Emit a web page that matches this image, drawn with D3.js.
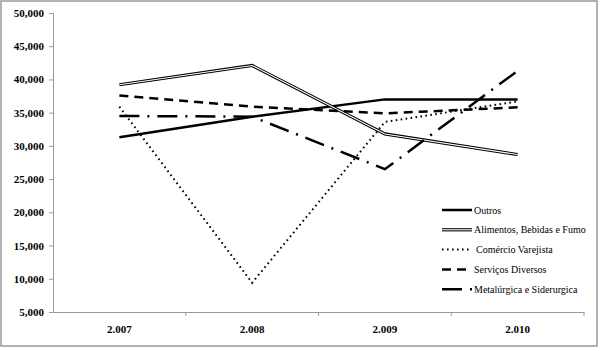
<!DOCTYPE html>
<html>
<head>
<meta charset="utf-8">
<script src="https://cdnjs.cloudflare.com/ajax/libs/d3/7.8.5/d3.min.js"></script>
<style>
  body { margin: 0; background: #fff; }
  svg text { font-family: "Liberation Serif", "Times New Roman", serif !important; }
</style>
</head>
<body>
<div id="chart"></div>
<script>
var years = ["2.007", "2.008", "2.009", "2.010"];
var outros      = [31300, 34400, 37000, 37000];
var alimentos   = [39200, 42100, 31800, 28700];
var comercio    = [35900, 9400, 33600, 36700];
var servicos    = [37600, 35900, 34900, 35800];
var metalurgica = [34500, 34400, 26500, 41300];
var yTicks = [5000, 10000, 15000, 20000, 25000, 30000, 35000, 40000, 45000, 50000];

var series = [
  { name: "Outros", values: outros, style: "solid" },
  { name: "Alimentos, Bebidas e Fumo", values: alimentos, style: "double" },
  { name: "Comércio Varejista", values: comercio, style: "dot" },
  { name: "Serviços Diversos", values: servicos, style: "dash" },
  { name: "Metalúrgica e Siderurgica", values: metalurgica, style: "dashdot" }
];

var width = 600, height = 351;
var margin = { left: 53, top: 13, right: 16, bottom: 39 };

var svg = d3.select("#chart").append("svg")
    .attr("width", width)
    .attr("height", height);

// outer frame
svg.append("rect")
    .attr("x", 1).attr("y", 1)
    .attr("width", 596).attr("height", 345)
    .attr("fill", "none")
    .attr("stroke", "#999")
    .attr("stroke-width", 1.5);

var x = d3.scaleBand()
    .domain(years)
    .range([margin.left, width - margin.right]);

var y = d3.scaleLinear()
    .domain([5000, 50000])
    .range([height - margin.bottom, margin.top]);

var fmt = d3.format(",");

// y axis
var yAxis = svg.append("g")
    .attr("transform", "translate(" + margin.left + ",0)")
    .call(d3.axisLeft(y).tickValues(yTicks).tickSize(4).tickPadding(5).tickFormat(fmt));
yAxis.attr("font-family", null);
yAxis.select(".domain").attr("stroke", "#999");
yAxis.selectAll(".tick line").attr("stroke", "#999");
yAxis.selectAll("text")
    .attr("font-size", 11)
    .attr("font-weight", "bold")
    .attr("fill", "#000");

// x axis
var xAxis = svg.append("g")
    .attr("transform", "translate(0," + (height - margin.bottom) + ")")
    .call(d3.axisBottom(x).tickSize(0).tickPadding(13));
xAxis.attr("font-family", null);
xAxis.select(".domain").attr("stroke", "#999");
xAxis.selectAll("text")
    .attr("font-size", 11)
    .attr("font-weight", "bold")
    .attr("fill", "#000");

// category boundary ticks
xAxis.selectAll(".bound")
    .data(years.slice(1).concat(["end"]))
    .enter().append("line")
    .attr("x1", function (d, i) { return x(years[0]) + x.bandwidth() * (i + 1); })
    .attr("x2", function (d, i) { return x(years[0]) + x.bandwidth() * (i + 1); })
    .attr("y1", 0).attr("y2", 4)
    .attr("stroke", "#999");

var line = d3.line()
    .x(function (d, i) { return x(years[i]) + x.bandwidth() / 2; })
    .y(function (d) { return y(d); });

function drawStyled(sel, style) {
  if (style === "double") {
    sel.append("path").attr("fill", "none").attr("stroke", "#000").attr("stroke-width", 3.2);
    sel.append("path").attr("fill", "none").attr("stroke", "#fff").attr("stroke-width", 1.1);
    return;
  }
  var p = sel.append("path").attr("fill", "none").attr("stroke", "#000");
  if (style === "solid") p.attr("stroke-width", 2.5);
  if (style === "dot") p.attr("stroke-width", 2).attr("stroke-dasharray", "1.6,3.4");
  if (style === "dash") p.attr("stroke-width", 2.5).attr("stroke-dasharray", "9,6");
  if (style === "dashdot") p.attr("stroke-width", 2.5).attr("stroke-dasharray", "20,8,2,8");
}

var plot = svg.append("g");
series.forEach(function (s) {
  var g = plot.append("g");
  drawStyled(g, s.style);
  g.selectAll("path").attr("d", line(s.values));
});

// legend
var legend = svg.append("g").attr("transform", "translate(442,210)");
series.forEach(function (s, i) {
  var g = legend.append("g").attr("transform", "translate(0," + (i * 19.8) + ")");
  drawStyled(g, s.style);
  g.selectAll("path").attr("d", "M0,0L30,0");
  g.append("text")
    .attr("x", s.style === "dot" ? 34 : 32)
    .attr("y", 3.5)
    .attr("font-size", 10)
    .attr("fill", "#000")
    .text(s.name);
});
</script>
</body>
</html>
